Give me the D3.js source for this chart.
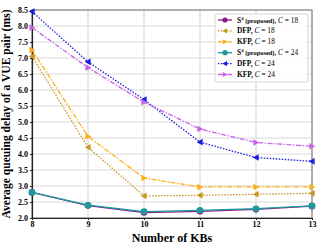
<!DOCTYPE html>
<html>
<head>
<meta charset="utf-8">
<script src="https://cdn.jsdelivr.net/npm/d3@7"></script>
<style>
  body { margin: 0; background: #fff; }
  text { font-family: "Liberation Serif", "Times New Roman", serif; }
</style>
</head>
<body>
<div id="chart"></div>
<script>
const kbs = [8, 9, 10, 11, 12, 13]
const s4C18 = [2.8, 2.39, 2.17, 2.21, 2.27, 2.37]
const dfpC18 = [7.05, 4.21, 2.69, 2.71, 2.74, 2.77]
const kfpC18 = [7.25, 4.55, 3.25, 2.97, 2.97, 2.97]
const s4C24 = [2.8, 2.4, 2.2, 2.24, 2.29, 2.38]
const dfpC24 = [8.45, 6.88, 5.7, 4.37, 3.89, 3.77]
const kfpC24 = [7.95, 6.7, 5.62, 4.78, 4.36, 4.24]
const yTicks = [2.0, 2.5, 3.0, 3.5, 4.0, 4.5, 5.0, 5.5, 6.0, 6.5, 7.0, 7.5, 8.0, 8.5]

const series = [
  { name: "S", sup: "4", extra: " (proposed),", c: "18", values: s4C18, color: "#8b1a8b", dash: null, marker: "circle" },
  { name: "DFP", extra: ",", c: "18", values: dfpC18, color: "#c8961e", dash: "1.5,1.5", marker: "left" },
  { name: "KFP", extra: ",", c: "18", values: kfpC18, color: "#ffae1a", dash: "5,1.5,1.5,1.5", marker: "right" },
  { name: "S", sup: "4", extra: " (proposed),", c: "24", values: s4C24, color: "#1a9a9a", dash: null, marker: "circle" },
  { name: "DFP", extra: ",", c: "24", values: dfpC24, color: "#1a1ae6", dash: "1.5,1.5", marker: "left" },
  { name: "KFP", extra: ",", c: "24", values: kfpC24, color: "#c864e6", dash: "5,1.5,1.5,1.5", marker: "right" }
]

const width = 317, height = 244
const margin = { left: 32, right: 5, top: 10, bottom: 26 }

const svg = d3.select("#chart").append("svg")
  .attr("width", width).attr("height", height)

const x = d3.scaleLinear().domain([8, 13]).range([margin.left, width - margin.right])
const y = d3.scaleLinear().domain([2, 8.5]).range([height - margin.bottom, margin.top])

// grid
svg.append("g").selectAll("line").data(kbs).join("line")
  .attr("x1", d => x(d)).attr("x2", d => x(d))
  .attr("y1", y(2)).attr("y2", y(8.5))
  .attr("stroke", "#d9d9d9").attr("stroke-width", 1.2)
svg.append("g").selectAll("line").data(yTicks).join("line")
  .attr("x1", x(8)).attr("x2", x(13))
  .attr("y1", d => y(d)).attr("y2", d => y(d))
  .attr("stroke", "#d9d9d9").attr("stroke-width", 1.2)

// spines
svg.append("rect")
  .attr("x", x(8)).attr("y", y(8.5))
  .attr("width", x(13) - x(8)).attr("height", y(2) - y(8.5))
  .attr("fill", "none").attr("stroke", "#888").attr("stroke-width", 1.2)

const xAxis = svg.append("g")
  .attr("transform", `translate(0,${y(2)})`)
  .call(d3.axisBottom(x).tickValues(kbs).tickFormat(d3.format("d")).tickSize(2).tickPadding(1))
const yAxis = svg.append("g")
  .attr("transform", `translate(${x(8)},0)`)
  .call(d3.axisLeft(y).tickValues(yTicks).tickFormat(d3.format(".1f")).tickSize(2).tickPadding(2))
for (const ax of [xAxis, yAxis]) {
  ax.select(".domain").attr("stroke", "#222").attr("stroke-width", 1.2)
  ax.selectAll(".tick line").attr("stroke", "#222")
  ax.selectAll(".tick text")
    .attr("font-family", "Liberation Serif, serif")
    .attr("font-size", 8).attr("font-weight", "bold").attr("fill", "#000")
}

function markerPath(type, s) {
  if (type === "left") return `M${-s},0L${s * 0.8},${-s}L${s * 0.8},${s}Z`
  if (type === "right") return `M${s},0L${-s * 0.8},${-s}L${-s * 0.8},${s}Z`
  return null
}

function drawMarker(g, type, color, cx, cy, s) {
  if (type === "circle") {
    g.append("circle").attr("cx", cx).attr("cy", cy).attr("r", s).attr("fill", color)
  } else {
    g.append("path").attr("d", markerPath(type, s))
      .attr("transform", `translate(${cx},${cy})`).attr("fill", color)
  }
}

const line = d3.line().x((d, i) => x(kbs[i])).y(d => y(d))

series.forEach(s => {
  const g = svg.append("g")
  g.append("path").datum(s.values)
    .attr("d", line).attr("fill", "none")
    .attr("stroke", s.color).attr("stroke-width", 1.3)
    .attr("stroke-dasharray", s.dash)
  s.values.forEach((v, i) => drawMarker(g, s.marker, s.color, x(kbs[i]), y(v), 3.3))
})

// legend
const lg = svg.append("g")
lg.append("rect")
  .attr("x", 215).attr("y", 14).attr("width", 93).attr("height", 68)
  .attr("rx", 2).attr("fill", "#fff").attr("fill-opacity", 0.9)
  .attr("stroke", "#ccc").attr("stroke-width", 0.8)
series.forEach((s, i) => {
  const ly = 20 + i * 10.9
  lg.append("line").attr("x1", 218).attr("x2", 232).attr("y1", ly).attr("y2", ly)
    .attr("stroke", s.color).attr("stroke-width", 1.3).attr("stroke-dasharray", s.dash)
  drawMarker(lg, s.marker, s.color, 225, ly, 2.6)
  const t = lg.append("text").attr("x", 237).attr("y", ly + 2.5)
    .attr("font-size", 7.4).attr("font-weight", "bold").attr("fill", "#000")
  t.append("tspan").text(s.name)
  if (s.sup) t.append("tspan").attr("font-size", 4.8).attr("dy", -3).text(s.sup)
  t.append("tspan").attr("font-size", s.sup ? 6.4 : 7.4).attr("dy", s.sup ? 3 : 0).text(s.extra)
  t.append("tspan").attr("font-weight", "normal").attr("font-style", "italic").attr("font-size", 7.4).text(" C")
  t.append("tspan").attr("font-weight", "normal").attr("font-size", 7.4).text(" = " + s.c)
})

// axis titles
svg.append("text")
  .attr("x", (x(8) + x(13)) / 2).attr("y", 241.5)
  .attr("text-anchor", "middle").attr("font-size", 12).attr("font-weight", "bold")
  .text("Number of KBs")
svg.append("text")
  .attr("transform", `translate(10,${(y(2) + y(8.5)) / 2}) rotate(-90)`)
  .attr("text-anchor", "middle").attr("font-size", 11.6).attr("font-weight", "bold")
  .text("Average queuing delay of a VUE pair (ms)")
</script>
</body>
</html>
